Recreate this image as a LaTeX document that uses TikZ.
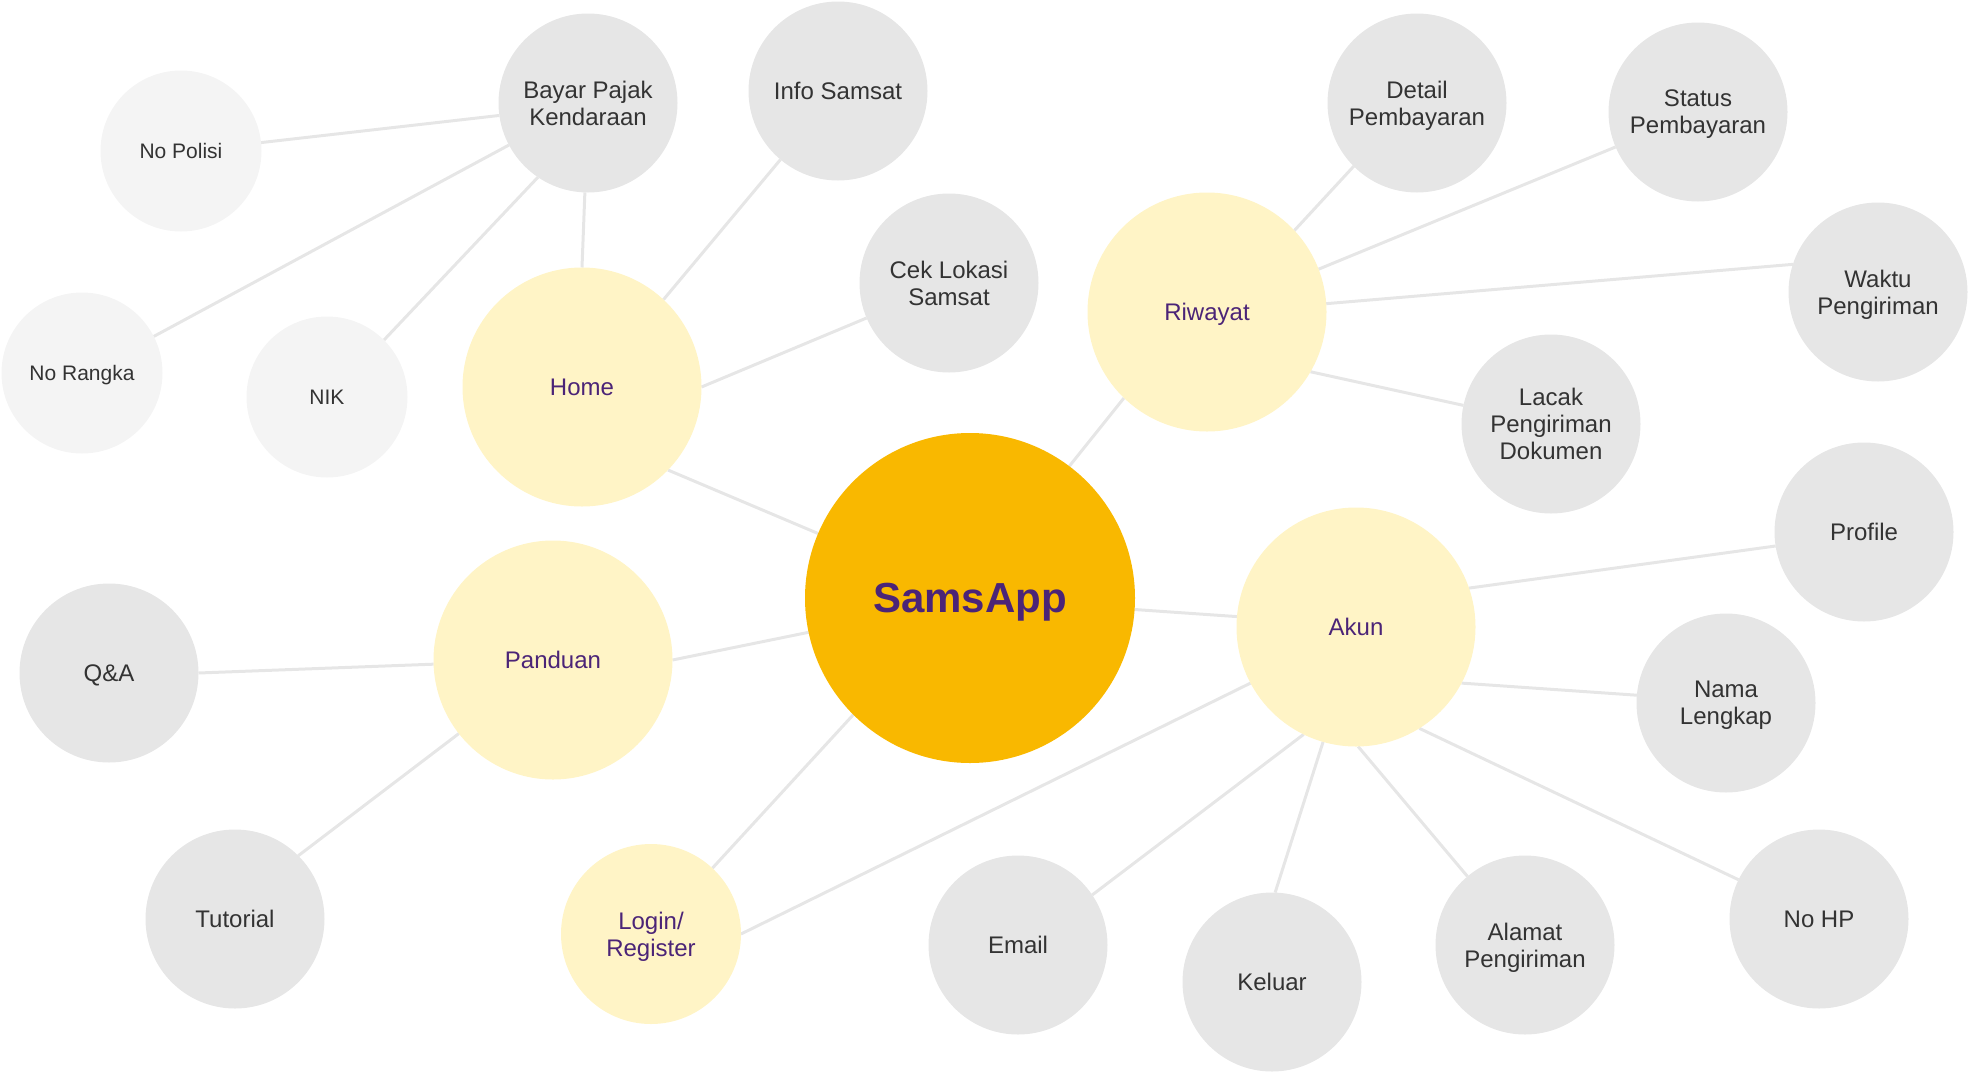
\documentclass[tikz,border=0pt]{standalone}
\usepackage{fontspec}
\setmainfont{Liberation Sans}
\usetikzlibrary{backgrounds}
\definecolor{coreC}{HTML}{F9B800}
\definecolor{lvlC}{HTML}{FFF4C6}
\definecolor{greyC}{HTML}{E6E6E6}
\definecolor{lightC}{HTML}{F4F4F4}
\definecolor{purpC}{HTML}{4B2477}
\definecolor{txtC}{HTML}{333333}
\definecolor{edgeC}{HTML}{E6E6E6}
\tikzset{
  bubble/.style={circle, inner sep=0pt, outer sep=0pt, align=center, text depth=0pt},
  core/.style={bubble, fill=coreC, minimum size=330pt, text=purpC, font=\fontsize{42}{46}\selectfont\bfseries},
  lvl/.style={bubble, fill=lvlC, minimum size=239pt, text=purpC, font=\fontsize{24}{27}\selectfont},
  lvlsmall/.style={lvl, minimum size=180pt},
  leaf/.style={bubble, fill=greyC, minimum size=179pt, text=txtC, font=\fontsize{24}{27}\selectfont},
  subleaf/.style={bubble, fill=lightC, minimum size=161pt, text=txtC, font=\fontsize{21}{24}\selectfont},
  link/.style={draw=edgeC, line width=3pt}
}
\begin{document}
\begin{tikzpicture}[x=1pt,y=1pt]
\useasboundingbox (0,0) rectangle (1971,-1074);
\node[core] (sams) at (970,-598) {SamsApp};
\node[lvl] (home) at (582,-387) {Home};
\node[lvl] (pand) at (553,-660) {Panduan};
\node[lvl] (riw) at (1207,-312) {Riwayat};
\node[lvl] (akun) at (1356,-627) {Akun};
\node[lvlsmall] (login) at (651,-934) {Login/\\Register};
\node[leaf] (bayar) at (588,-103) {Bayar Pajak\\Kendaraan};
\node[leaf] (info) at (838,-91) {Info Samsat};
\node[leaf] (cek) at (949,-283) {Cek Lokasi\\Samsat};
\node[subleaf] (polisi) at (181,-151) {No Polisi};
\node[subleaf] (rangka) at (82,-373) {No Rangka};
\node[subleaf] (nik) at (327,-397) {NIK};
\node[leaf] (detail) at (1417,-103) {Detail\\Pembayaran};
\node[leaf] (status) at (1698,-112) {Status\\Pembayaran};
\node[leaf] (waktu) at (1878,-292) {Waktu\\Pengiriman};
\node[leaf] (lacak) at (1551,-424) {Lacak\\Pengiriman\\Dokumen};
\node[leaf] (profile) at (1864,-532) {Profile};
\node[leaf] (nama) at (1726,-703) {Nama\\Lengkap};
\node[leaf] (nohp) at (1819,-919) {No HP};
\node[leaf] (alamat) at (1525,-945) {Alamat\\Pengiriman};
\node[leaf] (keluar) at (1272,-982) {Keluar};
\node[leaf] (email) at (1018,-945) {Email};
\node[leaf] (tut) at (235,-919) {Tutorial};
\node[leaf] (qa) at (109,-673) {Q\&A};
\begin{scope}[on background layer]
\foreach \a/\b in {home.-44.6/sams.157.5, sams.53/riw.-134, sams.-4/akun.175.7,
  pand.0/sams.-168.2, login.47/sams.-135,
  home.0/cek.203, home.47.6/info.230, home.90/bayar.268,
  polisi.6/bayar.188, rangka.27.8/bayar.208, nik.45.6/bayar.236.7,
  riw.43/detail.225.5, riw.21.5/status.203.7, riw.4/waktu.162, riw.-30.5/lacak.168,
  akun.19/profile.-171.2, akun.-28/nama.175, akun.-58/nohp.154, akun.-89/alamat.130,
  akun.-106.8/keluar.88, akun.-116/email.34.8, akun.-152.4/login.0,
  qa.0/pand.182, tut.45/pand.218.7}
  \draw[link] (\a) -- (\b);
\end{scope}
\end{tikzpicture}
\end{document}
